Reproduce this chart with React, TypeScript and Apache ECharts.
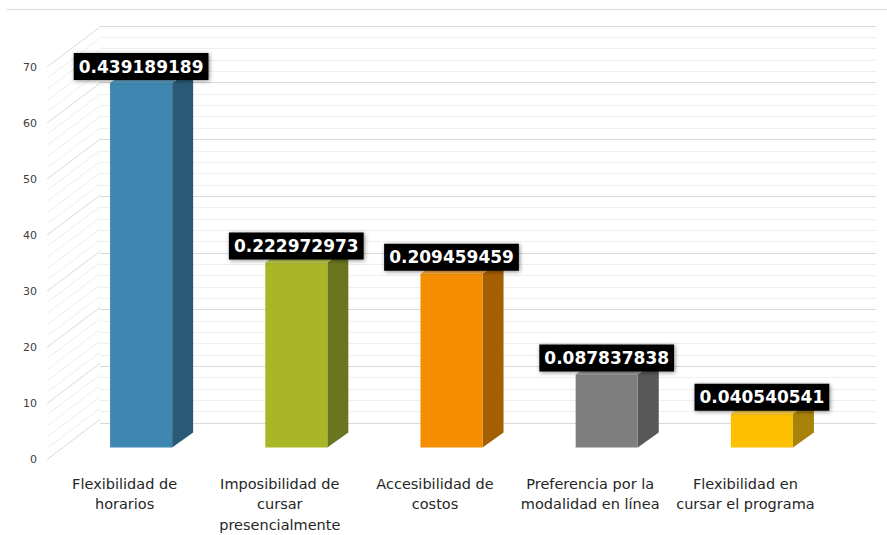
import React, { useEffect, useRef } from 'react';
import * as echarts from 'echarts';

const categories = [
  'Flexibilidad de\nhorarios',
  'Imposibilidad de\ncursar\npresencialmente',
  'Accesibilidad de\ncostos',
  'Preferencia por la\nmodalidad en línea',
  'Flexibilidad en\ncursar el programa',
];
const counts = [65, 33, 31, 13, 6];
const shares = ['0.439189189', '0.222972973', '0.209459459', '0.087837838', '0.040540541'];
const frontColors = ['#3E87B1', '#A9B727', '#F48E00', '#7F7F7F', '#FDC000'];
const sideColors = ['#2A5A76', '#6B7520', '#A55F03', '#585858', '#A8820A'];
const topColors = ['#5FA0C5', '#BCC94E', '#F7A63A', '#9A9A9A', '#FDD04A'];

const Y_MAX = 70;
const Y_INTERVAL = 10;
const MINOR_STEP = 2;

// oblique depth of the plot box (front plane -> back wall)
const WALL_DX = 53;
const WALL_DY = -40;
// where the bar front face sits inside the depth, and the bar's own depth
const BAR_SHIFT_X = 16.5;
const BAR_SHIFT_Y = -12;
const BAR_DX = 21;
const BAR_DY = -15;

export default function App() {
  const ref = useRef<HTMLDivElement>(null);
  useEffect(() => {
    if (!ref.current) return;
    const chart = echarts.init(ref.current, undefined, { renderer: 'svg' });
    const wallValues: number[] = [];
    for (let v = 0; v <= Y_MAX; v += MINOR_STEP) wallValues.push(v);

    chart.setOption({
      animation: false,
      backgroundColor: '#ffffff',
      graphic: [
        {
          type: 'line',
          shape: { x1: 7, y1: 9.5, x2: 887, y2: 9.5 },
          style: { stroke: '#d9d9d9', lineWidth: 1 },
          silent: true,
        },
      ],
      grid: [
        { left: 47, right: 64, top: 67, bottom: 72 },
        { left: 100, right: 11, top: 26, bottom: 112 },
      ],
      xAxis: [
        {
          type: 'category',
          gridIndex: 0,
          data: categories,
          axisLine: { show: false },
          axisTick: { show: false },
          axisLabel: {
            margin: 14,
            fontSize: 14.5,
            lineHeight: 20.5,
            color: '#262626',
            fontFamily: '"DejaVu Sans", Verdana, sans-serif',
            interval: 0,
          },
          splitLine: { show: false },
        },
        { type: 'category', gridIndex: 1, data: categories, show: false },
      ],
      yAxis: [
        {
          type: 'value',
          gridIndex: 0,
          min: 0,
          max: Y_MAX,
          interval: Y_INTERVAL,
          axisLine: { show: false },
          axisTick: { show: false },
          splitLine: { show: false },
          axisLabel: {
            margin: 10,
            fontSize: 11,
            color: '#404040',
            fontFamily: '"DejaVu Sans", Verdana, sans-serif',
          },
        },
        {
          type: 'value',
          gridIndex: 1,
          min: 0,
          max: Y_MAX,
          interval: Y_INTERVAL,
          axisLine: { show: false },
          axisTick: { show: false },
          axisLabel: { show: false },
          splitLine: { show: true, lineStyle: { color: '#d9d9d9', width: 1 } },
          minorTick: { show: false, splitNumber: Y_INTERVAL / MINOR_STEP },
          minorSplitLine: { show: true, lineStyle: { color: '#efefef', width: 1 } },
        },
      ],
      series: [
        {
          type: 'custom',
          xAxisIndex: 0,
          yAxisIndex: 0,
          silent: true,
          z: 1,
          data: wallValues.map((v) => [0, v]),
          renderItem: (params: any, api: any) => {
            const v = api.value(1);
            const p = api.coord([0, v]);
            const bw = api.size([1, 0])[0];
            const x0 = p[0] - bw / 2;
            return {
              type: 'line',
              shape: { x1: x0, y1: p[1], x2: x0 + WALL_DX, y2: p[1] + WALL_DY },
              style: { stroke: v % Y_INTERVAL === 0 ? '#d9d9d9' : '#ededed', lineWidth: 1 },
            };
          },
        },
        {
          type: 'custom',
          xAxisIndex: 0,
          yAxisIndex: 0,
          z: 3,
          data: counts.map((v, i) => [i, v]),
          renderItem: (params: any, api: any) => {
            const i = api.value(0);
            const v = api.value(1);
            const base = api.coord([i, 0]);
            const top = api.coord([i, v]);
            const bw = api.size([1, 0])[0];
            const w = bw * 0.4;
            const cx = base[0] + BAR_SHIFT_X;
            const yb = base[1] + BAR_SHIFT_Y;
            const yt = top[1] + BAR_SHIFT_Y;
            const xl = cx - w / 2;
            const xr = cx + w / 2;
            return {
              type: 'group',
              children: [
                {
                  type: 'polygon',
                  shape: { points: [[xr, yt], [xr + BAR_DX, yt + BAR_DY], [xr + BAR_DX, yb + BAR_DY], [xr, yb]] },
                  style: { fill: sideColors[i] },
                },
                {
                  type: 'polygon',
                  shape: { points: [[xl, yt], [xr, yt], [xr + BAR_DX, yt + BAR_DY], [xl + BAR_DX, yt + BAR_DY]] },
                  style: { fill: topColors[i] },
                },
                {
                  type: 'rect',
                  shape: { x: xl, y: yt, width: w, height: yb - yt },
                  style: { fill: frontColors[i] },
                },
                {
                  type: 'text',
                  x: cx,
                  y: yt - 3,
                  z2: 20,
                  style: {
                    text: shares[i],
                    fill: '#ffffff',
                    fontSize: 17,
                    fontWeight: 'bold',
                    fontFamily: '"DejaVu Sans", Verdana, sans-serif',
                    lineHeight: 19,
                    align: 'center',
                    verticalAlign: 'bottom',
                    backgroundColor: '#000000',
                    padding: [4, 5, 4, 5],
                    shadowBlur: 4,
                    shadowColor: 'rgba(0,0,0,0.45)',
                    shadowOffsetX: 1,
                    shadowOffsetY: 1,
                  },
                },
              ],
            };
          },
        },
      ],
    });
    return () => chart.dispose();
  }, []);
  return <div ref={ref} style={{ position: 'fixed', left: 0, top: 0, width: 887, height: 535 }} />;
}
